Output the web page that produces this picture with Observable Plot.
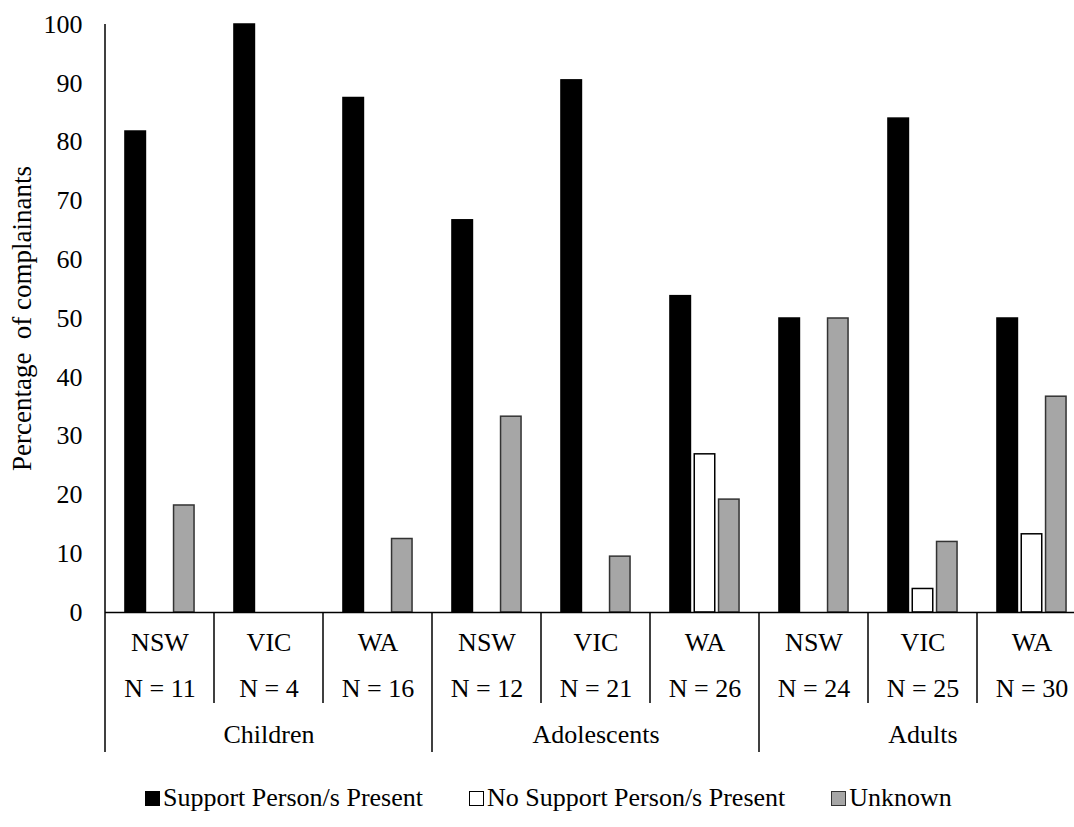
<!DOCTYPE html>
<html>
<head>
<meta charset="utf-8">
<script src="https://cdn.jsdelivr.net/npm/d3@7"></script>
<script src="https://cdn.jsdelivr.net/npm/@observablehq/plot@0.6"></script>
<style>
  html, body { margin: 0; padding: 0; background: #fff; overflow: hidden; width: 1074px; }
  #wrap { position: relative; width: 1074px; height: 827px; overflow: hidden; font-family: "Liberation Serif", "Times New Roman", Times, "DejaVu Serif", serif; }
  #legend { position: absolute; left: 145px; top: 785px; display: flex; align-items: center; font-size: 26px; line-height: 26px; color: #000; white-space: nowrap; }
  .item { display: flex; align-items: center; margin-right: 46px; }
  .sw { width: 13px; height: 13px; border: 1px solid #222; margin-right: 3px; box-sizing: content-box; }
</style>
</head>
<body>
<div id="wrap"><div id="chart"></div><div id="legend"></div></div>
<script>
// ---- data ----
const groups = ["Children", "Adolescents", "Adults"];
const states = ["NSW", "VIC", "WA"];
const nValues = [11, 4, 16, 12, 21, 26, 24, 25, 30];
const series = ["Support Person/s Present", "No Support Person/s Present", "Unknown"];
const supportPresent = [81.8, 100, 87.5, 66.7, 90.5, 53.8, 50, 84, 50];
const noSupport = [0, 0, 0, 0, 0, 26.9, 0, 4, 13.3];
const unknown = [18.2, 0, 12.5, 33.3, 9.5, 19.2, 50, 12, 36.7];
const yTicks = [0, 10, 20, 30, 40, 50, 60, 70, 80, 90, 100];
const yLabel = "Percentage  of complainants";
const fills = ["#000000", "#ffffff", "#a6a6a6"];
const strokes = ["#000000", "#000000", "#333333"];

// ---- derived tables ----
const keys = groups.flatMap(g => states.map(s => g + "|" + s));
const cats = keys.map((k, i) => ({key: k, group: k.split("|")[0], state: k.split("|")[1], n: "N = " + nValues[i]}));
const seriesValues = [supportPresent, noSupport, unknown];
const rows = series.map((s, j) => keys.map((k, i) => ({key: k, series: s, value: seriesValues[j][i]})));
const groupRows = groups.map(g => ({key: g + "|" + states[1], label: g}));

const W = 1074, H = 770;
const mL = 105, mR = -12, mT = 24, mB = 158;
const step = (W - mL - mR) / keys.length;
const barW = 20.5, offset = 24.3;
const FS = 26;
const FONT = '"Liberation Serif", "Times New Roman", Times, "DejaVu Serif", serif';

const marks = [];
rows.forEach((r, j) => {
  marks.push(Plot.barY(r.filter(d => d.value > 0), {
    x: "key", y: "value",
    dx: (j - 1) * offset,
    insetLeft: (step - barW) / 2, insetRight: (step - barW) / 2,
    fill: fills[j], stroke: strokes[j], strokeWidth: 1.5
  }));
});
marks.push(Plot.ruleY([0], {stroke: "#000", strokeWidth: 1.5}));
marks.push(Plot.axisY({ticks: yTicks, tickSize: 0, tickPadding: 23, fontSize: FS, label: null, tickFormat: d => String(d)}));
marks.push(Plot.text([yLabel], {frameAnchor: "left", dx: -83, rotate: -90, textAnchor: "middle", fontSize: 27, text: d => d, fill: "#000"}));
marks.push(Plot.text(cats, {x: "key", text: "state", frameAnchor: "bottom", dy: 38, fontSize: FS, fill: "#000"}));
marks.push(Plot.text(cats, {x: "key", text: "n", frameAnchor: "bottom", dy: 84, fontSize: FS, fill: "#000"}));
marks.push(Plot.text(groupRows, {x: "key", text: "label", frameAnchor: "bottom", dy: 130, fontSize: FS, fill: "#000"}));

const plot = Plot.plot({
  width: W, height: H,
  marginLeft: mL, marginRight: mR, marginTop: mT, marginBottom: mB,
  x: {domain: keys, range: [mL, W - mR], padding: 0, axis: null},
  y: {domain: [0, 100], axis: null},
  style: {fontFamily: FONT, fontSize: FS + "px", color: "#000", background: "#fff", overflow: "hidden"},
  marks
});

// dividers drawn from the plot's own scales
const xs = plot.scale("x"), ys = plot.scale("y");
const y0 = ys.apply(0), yTop = ys.apply(100);
const svg = d3.select(plot);
svg.selectAll("text").attr("font-family", FONT);
const g = svg.append("g").attr("stroke", "#000").attr("stroke-width", 1.5);
const bounds = keys.map(k => xs.apply(k)).concat([xs.apply(keys[keys.length - 1]) + xs.bandwidth]);
bounds.forEach((x, i) => {
  const isGroup = i % states.length === 0;
  g.append("line")
    .attr("x1", x).attr("x2", x)
    .attr("y1", i === 0 ? yTop : y0)
    .attr("y2", y0 + (isGroup ? 140 : 91));
});
document.getElementById("chart").appendChild(plot);

// legend
const lg = d3.select("#legend");
series.forEach((s, j) => {
  const it = lg.append("div").attr("class", "item");
  it.append("div").attr("class", "sw").style("background", fills[j]).style("border-color", strokes[j]);
  it.append("span").text(s);
});
</script>
</body>
</html>
